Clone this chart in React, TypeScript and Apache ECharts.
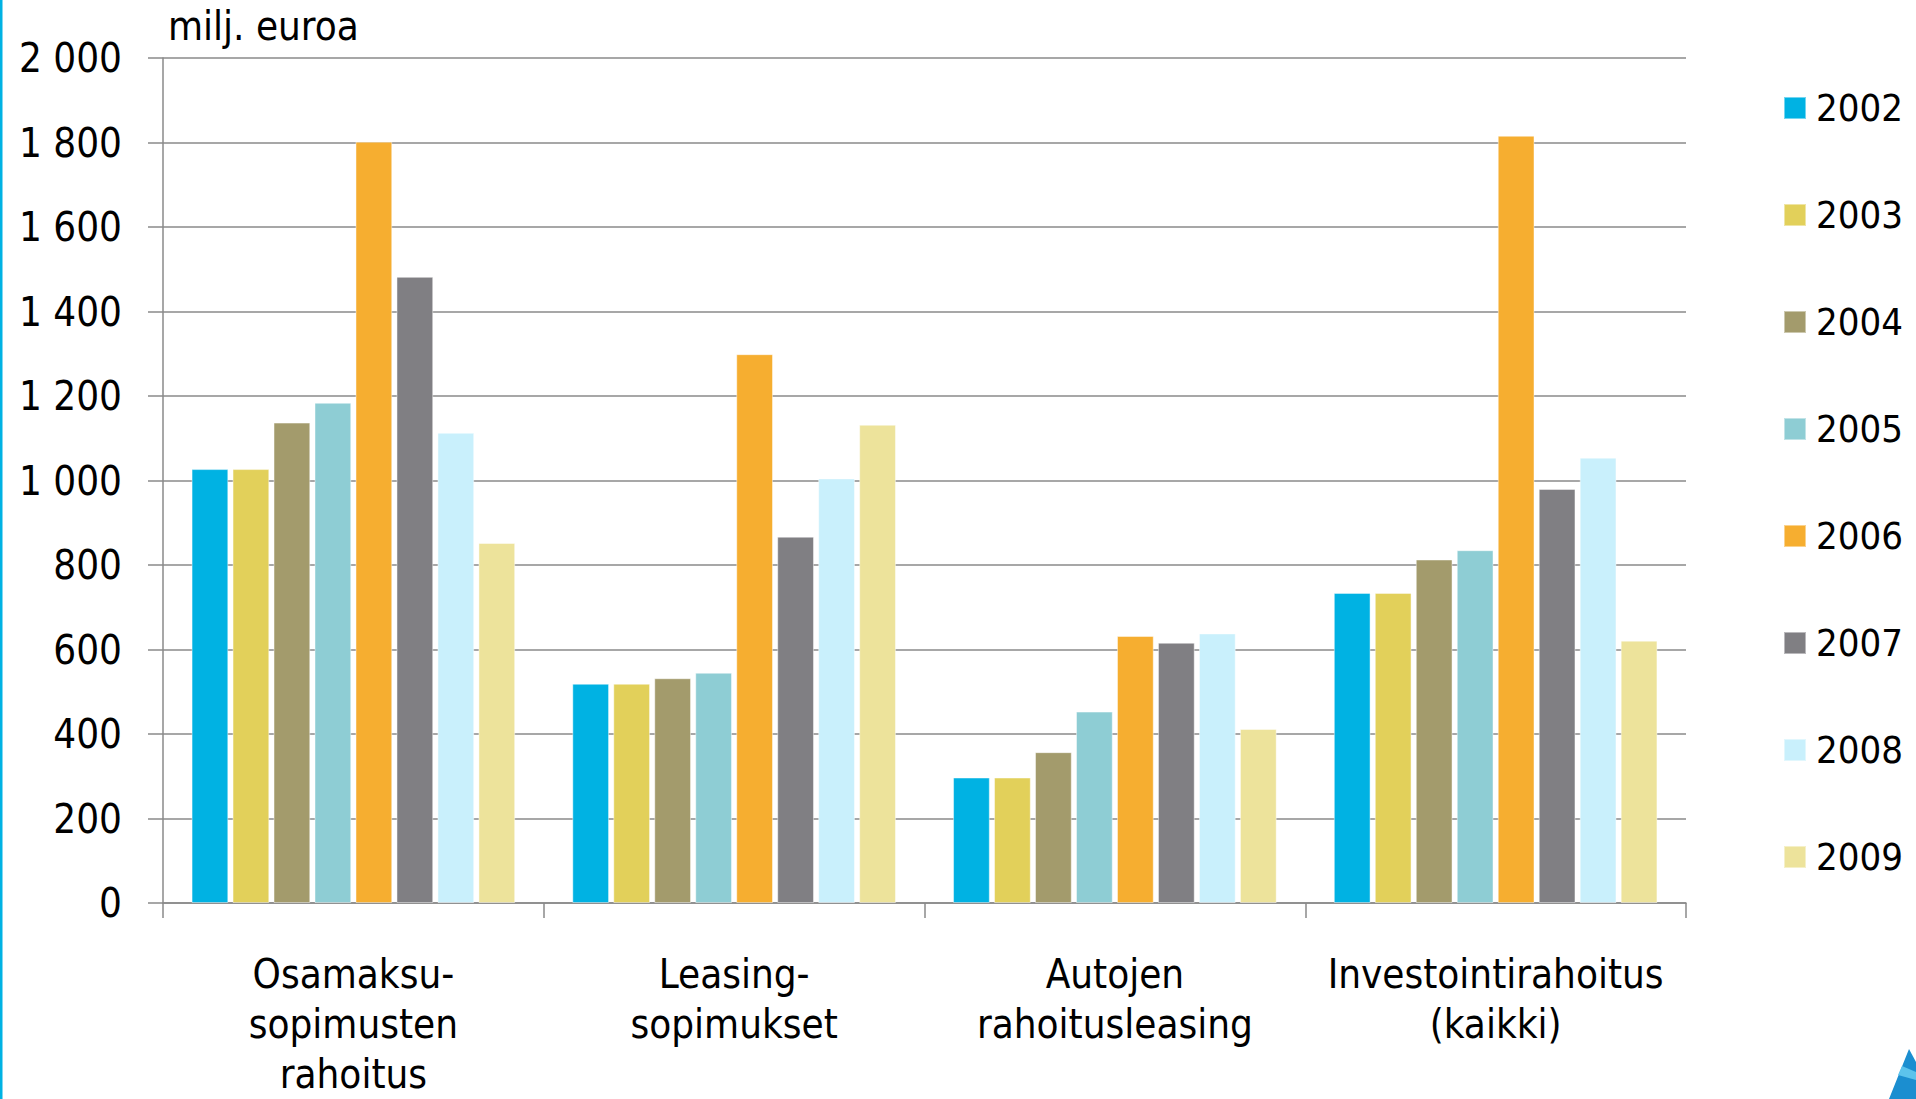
import React, { useEffect, useRef } from "react";
import * as echarts from "echarts";

const categories = [
  "Osamaksu-\nsopimusten\nrahoitus",
  "Leasing-\nsopimukset",
  "Autojen\nrahoitusleasing",
  "Investointirahoitus\n(kaikki)",
];
const years = ["2002", "2003", "2004", "2005", "2006", "2007", "2008", "2009"];
const colors = ["#00B2E3", "#E2D05A", "#A39B6C", "#8ECDD4", "#F6AE30", "#807F83", "#C9F0FC", "#EDE39B"];

const v2002 = [1027, 519, 297, 734];
const v2003 = [1027, 519, 297, 734];
const v2004 = [1137, 532, 357, 813];
const v2005 = [1184, 545, 453, 835];
const v2006 = [1802, 1299, 632, 1816];
const v2007 = [1482, 867, 616, 980];
const v2008 = [1113, 1005, 638, 1054];
const v2009 = [852, 1132, 412, 621];
const seriesValues = [v2002, v2003, v2004, v2005, v2006, v2007, v2008, v2009];

const FONT = "'DejaVu Sans Condensed', 'DejaVu Sans', sans-serif";

export default function App() {
  const ref = useRef<HTMLDivElement>(null);
  useEffect(() => {
    if (!ref.current) return;
    const chart = echarts.init(ref.current, null, { renderer: "svg" });
    const fmt = (v: number) => String(v).replace(/\B(?=(\d{3})+(?!\d))/g, " ");
    chart.setOption({
      animation: false,
      backgroundColor: "#ffffff",
      textStyle: { fontFamily: FONT },
      grid: { left: 163, right: 230, top: 58, bottom: 189, containLabel: false },
      legend: {
        orient: "vertical",
        left: 1778,
        top: 83,
        itemWidth: 22,
        itemHeight: 22,
        itemGap: 67,
        icon: "rect",
        data: years,
        textStyle: { fontFamily: FONT, fontSize: 38, color: "#000", lineHeight: 40, padding: [0, 0, 0, 5] },
      },
      xAxis: {
        type: "category",
        data: categories,
        axisLine: { lineStyle: { color: "#8a8a8a", width: 1.5 } },
        axisTick: { show: true, length: 15, alignWithLabel: false, lineStyle: { color: "#8a8a8a", width: 1.5 } },
        axisLabel: {
          fontFamily: FONT,
          fontSize: 40,
          color: "#000",
          lineHeight: 50,
          margin: 46,
          interval: 0,
        },
      },
      yAxis: {
        type: "value",
        min: 0,
        max: 2000,
        interval: 200,
        axisLine: { show: true, lineStyle: { color: "#8a8a8a", width: 1.5 } },
        axisTick: { show: true, length: 15, lineStyle: { color: "#8a8a8a", width: 1.5 } },
        splitLine: { lineStyle: { color: "#8a8a8a", width: 1.5 } },
        axisLabel: {
          fontFamily: FONT,
          fontSize: 40,
          color: "#000",
          margin: 41,
          formatter: fmt,
        },
      },
      series: years.map((y, i) => ({
        name: y,
        type: "bar",
        data: seriesValues[i],
        barCategoryGap: "15%",
        barGap: "11.5%",
        itemStyle: { color: colors[i], borderColor: "rgba(255,255,255,0.45)", borderWidth: 1 },
      })),
      graphic: [
        {
          type: "text",
          left: 168,
          top: 6,
          style: { text: "milj. euroa", fontFamily: FONT, fontSize: 40, fill: "#000" },
        },
        {
          type: "rect",
          shape: { x: 0, y: 0, width: 2.5, height: 1099 },
          style: { fill: "#00B2E3" },
        },
        {
          type: "polygon",
          shape: { points: [[1909, 1049], [1916, 1062], [1916, 1099], [1889, 1099]] },
          style: { fill: "#1B8ED0" },
        },
        {
          type: "polygon",
          shape: { points: [[1902, 1066], [1916, 1072], [1916, 1080], [1898, 1075]] },
          style: { fill: "#5CC3EC" },
        },
      ],
    });
    return () => chart.dispose();
  }, []);
  return (
    <div
      ref={ref}
      style={{ position: "fixed", left: 0, top: 0, width: 1916, height: 1099 }}
    />
  );
}
